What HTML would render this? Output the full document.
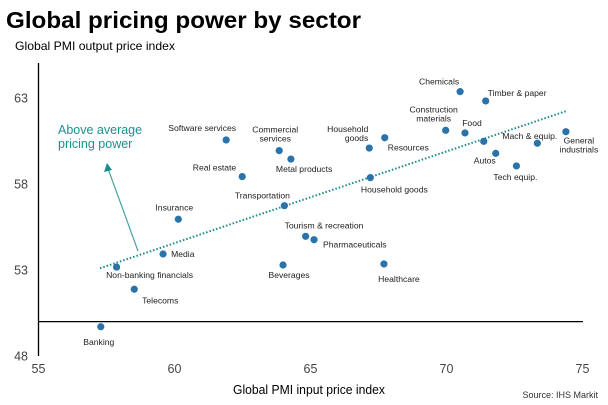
<!DOCTYPE html>
<html><head><meta charset="utf-8"><style>
html,body{margin:0;padding:0;background:#fff;}
svg{display:block;font-family:"Liberation Sans",Arial,sans-serif;}
</style></head><body>
<svg id="chart" width="608" height="405" viewBox="0 0 608 405" xmlns="http://www.w3.org/2000/svg">
<text x="6" y="28" font-size="23" font-weight="bold" fill="#000" textLength="355" lengthAdjust="spacingAndGlyphs">Global pricing power by sector</text>
<text x="15" y="50" font-size="12" fill="#000" textLength="160" lengthAdjust="spacingAndGlyphs">Global PMI output price index</text>
<text x="309" y="394" font-size="12.5" text-anchor="middle" fill="#000" textLength="152" lengthAdjust="spacingAndGlyphs">Global PMI input price index</text>
<text x="598" y="398" font-size="9" text-anchor="end" fill="#333">Source: IHS Markit</text>
<g id="axes"></g>
<g id="trend"></g>
<g id="marks"></g>
<text x="58" y="134" font-size="12.5" fill="#1a9090">Above average</text>
<text x="58" y="148" font-size="12.5" fill="#1a9090">pricing power</text>
<line x1="138" y1="251" x2="108.5" y2="170" stroke="#4aa3a3" stroke-width="1.2"/>
<polygon points="107,163 104,172 112,170" fill="#1a8a8a"/>
</svg>
<script>
const sectors = ["Software services","Commercial services","Metal products","Real estate","Transportation","Insurance","Media","Non-banking financials","Telecoms","Banking","Beverages","Tourism & recreation","Pharmaceuticals","Chemicals","Timber & paper","Construction materials","Food","Household goods","Resources","Unlabeled","Mach & equip.","General industrials","Autos","Tech equip.","Household goods","Healthcare"];
const inputIdx = [61.9,63.85,64.28,62.49,64.04,60.14,59.58,57.87,58.52,57.29,63.99,64.82,65.13,70.5,71.44,69.97,70.68,67.16,67.73,71.37,73.34,74.39,71.81,72.57,67.2,67.7];
const outputIdx = [60.56,59.94,59.45,58.43,56.74,55.95,53.93,53.17,51.88,49.7,53.29,54.96,54.76,63.37,62.83,61.12,60.97,60.09,60.69,60.48,60.37,61.04,59.78,59.05,58.37,53.35];
const xTicks = [55,60,65,70,75];
const yTicks = [48,53,58,63];
const trendX = [57.26,74.42];
const trendY = [53.1,62.25];
const baseline = 50;
// label layout (not data): dx, dy, anchor, line breaks
const labelLayout = [[-24,-9,"middle"],[-4,-18,"middle",["Commercial","services"]],[-15,13,"start"],[-6,-6,"end"],[-22,-7,"middle"],[-4,-9,"middle"],[8,3,"start"],[33,11,"middle"],[26,14,"middle"],[-2,18,"middle"],[6,13,"middle"],[-21,-8,"start"],[9,8,"start"],[-21,-7,"middle"],[2,-5,"start"],[-12,-18,"middle",["Construction","materials"]],[7,-7,"middle"],[-1,-16,"end",["Household","goods"]],[3,13,"start"],null,[-35,-4,"start"],[13,12,"middle",["General","industrials"]],[-11,10,"middle"],[-1,14,"middle"],[24,15,"middle"],[15,18,"middle"]];
const X0=38.5, XS=27.2, Y0=356, YS=17.2;
const xs = v => X0 + (v-55)*XS;
const ys = v => Y0 - (v-48)*YS;
const NS="http://www.w3.org/2000/svg";
function mk(tag, attrs, parent){const e=document.createElementNS(NS,tag);for(const k in attrs)e.setAttribute(k,attrs[k]);parent.appendChild(e);return e;}
const axes=document.getElementById('axes');
let yl=mk('line',{x1:X0,y1:63,x2:X0,y2:Y0,stroke:'#000','stroke-width':1.3},axes);


let bl=mk('line',{x1:X0,y1:ys(baseline),x2:583,y2:ys(baseline),stroke:'#000','stroke-width':1.3},axes);


xTicks.forEach(t=>{const e=mk('text',{x:xs(t),y:373,'font-size':12.5,'text-anchor':'middle',fill:'#444'},axes);e.textContent=t;

});
yTicks.forEach(t=>{const e=mk('text',{x:28,y:ys(t)+4.5,'font-size':12.5,'text-anchor':'end',fill:'#444'},axes);e.textContent=t;

});
const tl=mk('line',{x1:xs(trendX[0]),y1:ys(trendY[0]),x2:xs(trendX[1]),y2:ys(trendY[1]),stroke:'#1a8a8a','stroke-width':2,'stroke-dasharray':'1.5 2'},document.getElementById('trend'));


const marks=document.getElementById('marks');
sectors.forEach((s,i)=>{
 const cx=xs(inputIdx[i]), cy=ys(outputIdx[i]);
 const c=mk('circle',{cx:cx,cy:cy,r:3.6,fill:'#2a72aa'},marks);
 
 
 const L=labelLayout[i]; if(!L) return;
 const lines=L[3]||[s];
 lines.forEach((ln,j)=>{
  const t=mk('text',{x:cx+L[0],y:cy+L[1]+j*9,'font-size':8.6,'text-anchor':L[2],fill:'#222'},marks);
  t.textContent=ln;
  
  
 });
});
</script>
</body></html>
